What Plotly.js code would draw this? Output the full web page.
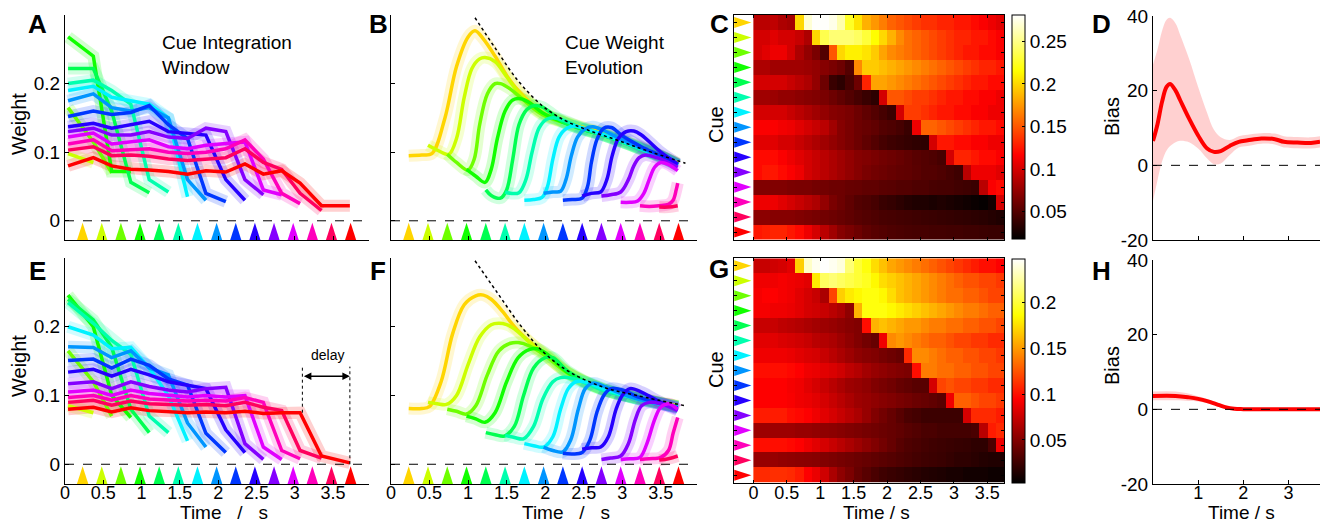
<!DOCTYPE html>
<html><head><meta charset="utf-8">
<script src="https://cdn.plot.ly/plotly-3.0.1.min.js"></script>
<style>html,body{margin:0;padding:0;background:#fff}#plot{width:1324px;height:524px}</style>
</head><body><div id="plot"></div>
<script>
// ---------------- DATA ----------------
const CUE_COLORS = ['#ffd500','#ccff00','#6eff00','#11ff00','#00ff51','#00ffae','#00f2ff','#0095ff','#0037ff','#2600ff','#8400ff','#e100ff','#ff00bb','#ff005e','#ff0000'];
const CUE_T = [0.23,0.48,0.73,0.98,1.23,1.48,1.73,1.98,2.23,2.48,2.73,2.98,3.23,3.48,3.73];
const CUE_ROWS = [1,2,3,4,5,6,7,8,9,10,11,12,13,14,15];
const TIME_TICKS = [0,0.5,1,1.5,2,2.5,3,3.5];
const TIME_LABELS = ['0','0.5','1','1.5','2','2.5','3','3.5'];

// Panel A / E : cue integration window (x grid shared)
const GRID_A = [0.04,0.37,0.61,0.86,1.1,1.35,1.6,1.84,2.1,2.35,2.59,2.83,3.07,3.35,3.72];
const A_LINES = [
 [0.095],
 [0.098,0.085],
 [0.165,0.115,0.07],
 [0.268,0.24,0.072,0.072],
 [0.222,0.222,0.16,0.056,0.041],
 [0.2,0.205,0.19,0.17,0.06,0.042],
 [0.19,0.196,0.18,0.175,0.17,0.15,0.035],
 [0.175,0.185,0.165,0.16,0.165,0.15,0.06,0.03],
 [0.152,0.16,0.155,0.158,0.168,0.14,0.12,0.04,0.028],
 [0.137,0.142,0.135,0.14,0.145,0.13,0.128,0.125,0.06,0.03],
 [0.13,0.135,0.125,0.125,0.13,0.122,0.12,0.135,0.13,0.06,0.038],
 [0.122,0.128,0.112,0.115,0.118,0.108,0.105,0.11,0.112,0.115,0.045,0.038],
 [0.112,0.118,0.102,0.104,0.105,0.1,0.098,0.1,0.105,0.118,0.09,0.04,0.025],
 [0.103,0.108,0.095,0.096,0.094,0.09,0.088,0.09,0.092,0.105,0.085,0.075,0.04,0.015],
 [0.08,0.092,0.08,0.075,0.074,0.072,0.068,0.073,0.071,0.083,0.068,0.073,0.055,0.022,0.022]
];
const E_LINES = [
 [0.08],
 [0.085,0.075],
 [0.165,0.12,0.07],
 [0.246,0.2,0.1,0.068],
 [0.24,0.21,0.17,0.08,0.046],
 [0.235,0.205,0.18,0.16,0.07,0.046],
 [0.2,0.188,0.168,0.17,0.14,0.1,0.034],
 [0.171,0.17,0.155,0.165,0.14,0.13,0.06,0.025],
 [0.151,0.153,0.14,0.153,0.144,0.124,0.115,0.045,0.017],
 [0.134,0.138,0.128,0.138,0.13,0.12,0.115,0.11,0.05,0.017],
 [0.117,0.12,0.11,0.12,0.113,0.108,0.105,0.11,0.112,0.03,0.007],
 [0.105,0.108,0.1,0.108,0.103,0.1,0.098,0.1,0.098,0.1,0.025,0.007],
 [0.097,0.1,0.093,0.1,0.095,0.094,0.092,0.093,0.092,0.097,0.09,0.02,0.008],
 [0.09,0.093,0.086,0.092,0.088,0.087,0.086,0.087,0.085,0.09,0.083,0.078,0.02,0.009],
 [0.08,0.083,0.076,0.082,0.078,0.076,0.075,0.076,0.075,0.077,0.074,0.075,0.075,0.012,0.002]
];

// Panel B / F : cue weight evolution
const B_T = [
 [0.23,0.4,0.53,0.7,0.85,1.0,1.09,1.2,1.35,1.5,1.65,1.96,2.25,2.5,2.75,3.0,3.25,3.5,3.72],
 [0.48,0.6,0.75,0.85,0.95,1.05,1.15,1.22,1.35,1.5,1.65,1.96,2.25,2.5,2.75,3.0,3.25,3.5,3.72],
 [0.73,0.85,1.0,1.08,1.15,1.25,1.35,1.42,1.55,1.7,1.96,2.25,2.5,2.75,3.0,3.25,3.5,3.72],
 [0.98,1.1,1.22,1.3,1.38,1.48,1.58,1.68,1.8,1.96,2.25,2.5,2.75,3.0,3.25,3.5,3.72],
 [1.23,1.3,1.42,1.5,1.58,1.66,1.76,1.86,1.96,2.1,2.25,2.5,2.75,3.0,3.25,3.5,3.72],
 [1.48,1.55,1.66,1.75,1.83,1.92,2.02,2.12,2.25,2.5,2.75,3.0,3.25,3.5,3.72],
 [1.73,1.85,1.96,2.03,2.1,2.18,2.28,2.4,2.5,2.75,3.0,3.25,3.5,3.72],
 [1.98,2.1,2.2,2.27,2.34,2.42,2.52,2.62,2.75,3.0,3.25,3.5,3.72],
 [2.23,2.35,2.48,2.55,2.6,2.67,2.76,2.86,3.0,3.25,3.5,3.72],
 [2.48,2.6,2.72,2.8,2.87,2.95,3.05,3.15,3.25,3.5,3.72],
 [2.73,2.85,2.98,3.08,3.15,3.22,3.3,3.45,3.6,3.72],
 [2.98,3.1,3.2,3.28,3.35,3.42,3.5,3.6,3.72],
 [3.23,3.35,3.48,3.6,3.66,3.7,3.72],
 [3.48,3.6,3.72],
 []
];
const B_W = [
 [0.095,0.096,0.098,0.15,0.225,0.268,0.277,0.265,0.24,0.212,0.19,0.158,0.145,0.136,0.128,0.118,0.107,0.095,0.084],
 [0.11,0.103,0.097,0.12,0.18,0.222,0.236,0.238,0.232,0.21,0.188,0.156,0.144,0.135,0.127,0.117,0.106,0.094,0.083],
 [0.097,0.085,0.074,0.09,0.14,0.185,0.2,0.2,0.192,0.178,0.155,0.143,0.134,0.126,0.116,0.105,0.094,0.082],
 [0.075,0.065,0.056,0.075,0.12,0.16,0.176,0.178,0.172,0.158,0.143,0.133,0.125,0.115,0.105,0.094,0.082],
 [0.045,0.037,0.033,0.045,0.09,0.14,0.162,0.168,0.166,0.155,0.143,0.133,0.125,0.115,0.104,0.093,0.081],
 [0.042,0.04,0.041,0.06,0.1,0.135,0.148,0.15,0.146,0.134,0.125,0.115,0.104,0.093,0.081],
 [0.03,0.031,0.034,0.05,0.09,0.122,0.135,0.138,0.135,0.126,0.116,0.105,0.093,0.081],
 [0.04,0.042,0.043,0.06,0.095,0.122,0.134,0.137,0.132,0.118,0.106,0.094,0.082],
 [0.03,0.031,0.033,0.05,0.085,0.118,0.135,0.136,0.124,0.108,0.095,0.082],
 [0.036,0.04,0.042,0.06,0.095,0.12,0.13,0.131,0.125,0.1,0.083],
 [0.036,0.038,0.042,0.06,0.08,0.092,0.096,0.092,0.085,0.078],
 [0.027,0.027,0.029,0.04,0.06,0.078,0.085,0.082,0.073],
 [0.022,0.021,0.022,0.024,0.03,0.045,0.055],
 [0.02,0.02,0.022],
 []
];
const F_T = [
 [0.23,0.4,0.5,0.65,0.8,0.95,1.1,1.2,1.3,1.45,1.6,1.8,2.0,2.3,2.75,3.2,3.72],
 [0.48,0.6,0.72,0.85,1.0,1.15,1.3,1.4,1.5,1.6,1.8,2.0,2.3,2.75,3.2,3.72],
 [0.73,0.85,0.98,1.1,1.25,1.4,1.55,1.65,1.8,2.0,2.3,2.75,3.2,3.72],
 [0.98,1.1,1.22,1.35,1.5,1.65,1.8,1.9,2.05,2.3,2.75,3.2,3.72],
 [1.23,1.35,1.47,1.6,1.72,1.85,2.0,2.1,2.3,2.75,3.2,3.72],
 [1.48,1.6,1.72,1.85,1.97,2.1,2.2,2.35,2.75,3.2,3.72],
 [1.73,1.85,1.98,2.1,2.2,2.3,2.4,2.55,2.75,3.2,3.72],
 [1.98,2.1,2.23,2.33,2.43,2.52,2.62,2.75,3.0,3.2,3.72],
 [2.23,2.35,2.48,2.58,2.67,2.76,2.85,3.0,3.2,3.45,3.72],
 [2.48,2.6,2.72,2.82,2.92,3.0,3.1,3.25,3.45,3.72],
 [2.73,2.85,2.98,3.08,3.17,3.25,3.35,3.5,3.72],
 [2.98,3.1,3.23,3.32,3.42,3.5,3.6,3.72],
 [3.23,3.35,3.5,3.6,3.66,3.72],
 [3.48,3.6,3.72],
 []
];
const F_W = [
 [0.081,0.081,0.084,0.12,0.19,0.232,0.245,0.246,0.24,0.222,0.2,0.178,0.16,0.133,0.11,0.097,0.085],
 [0.09,0.088,0.087,0.1,0.145,0.185,0.203,0.205,0.203,0.197,0.177,0.159,0.132,0.109,0.096,0.084],
 [0.08,0.077,0.073,0.085,0.13,0.165,0.176,0.177,0.172,0.158,0.132,0.109,0.096,0.084],
 [0.07,0.066,0.061,0.075,0.12,0.155,0.167,0.168,0.158,0.133,0.109,0.096,0.084],
 [0.046,0.043,0.041,0.055,0.1,0.14,0.155,0.155,0.135,0.109,0.096,0.084],
 [0.042,0.039,0.037,0.055,0.095,0.12,0.126,0.125,0.108,0.095,0.083],
 [0.03,0.027,0.025,0.04,0.08,0.11,0.12,0.119,0.11,0.095,0.083],
 [0.025,0.02,0.018,0.035,0.08,0.11,0.118,0.114,0.102,0.095,0.083],
 [0.016,0.015,0.017,0.035,0.075,0.1,0.11,0.108,0.098,0.09,0.082],
 [0.022,0.024,0.025,0.04,0.08,0.1,0.11,0.105,0.093,0.08],
 [0.007,0.009,0.012,0.03,0.065,0.085,0.09,0.088,0.078],
 [0.007,0.008,0.01,0.03,0.065,0.083,0.088,0.08],
 [0.007,0.008,0.01,0.02,0.045,0.068],
 [0.006,0.008,0.012],
 []
];
const B_ENV_T = [1.09,1.35,1.65,1.96,2.26,2.56,2.95,3.3,3.82];
const B_ENV_W = [0.296,0.252,0.204,0.168,0.146,0.132,0.117,0.103,0.084];
const F_ENV_T = [1.09,1.37,1.68,1.98,2.32,2.76,3.19,3.82];
const F_ENV_W = [0.296,0.251,0.202,0.163,0.134,0.112,0.1,0.085];

// Panel C / G : heat maps (rows = cues, columns = time bins)
const HEAT_T = [0.0625,0.1875,0.3125,0.4375,0.5625,0.6875,0.8125,0.9375,1.0625,1.1875,1.3125,1.4375,1.5625,1.6875,1.8125,1.9375,2.0625,2.1875,2.3125,2.4375,2.5625,2.6875,2.8125,2.9375,3.0625,3.1875,3.3125,3.4375,3.5625,3.6875];
const HEAT_C = [
 [0.09,0.09,0.092,0.085,0.082,0.2,0.27,0.28,0.28,0.275,0.26,0.225,0.205,0.185,0.175,0.165,0.155,0.15,0.145,0.14,0.135,0.135,0.13,0.13,0.125,0.125,0.12,0.115,0.11,0.105],
 [0.1,0.1,0.105,0.1,0.1,0.095,0.085,0.2,0.235,0.245,0.245,0.245,0.24,0.23,0.215,0.2,0.185,0.17,0.16,0.155,0.15,0.145,0.14,0.135,0.13,0.13,0.125,0.125,0.12,0.115],
 [0.1,0.105,0.11,0.11,0.1,0.085,0.075,0.065,0.05,0.15,0.2,0.21,0.21,0.205,0.195,0.18,0.17,0.165,0.16,0.155,0.15,0.145,0.14,0.135,0.13,0.125,0.125,0.12,0.12,0.115],
 [0.085,0.085,0.08,0.08,0.08,0.08,0.078,0.075,0.07,0.065,0.06,0.05,0.17,0.195,0.195,0.19,0.185,0.18,0.175,0.17,0.165,0.16,0.155,0.15,0.145,0.14,0.135,0.13,0.13,0.125],
 [0.1,0.1,0.1,0.1,0.095,0.09,0.085,0.075,0.06,0.04,0.035,0.045,0.06,0.13,0.18,0.18,0.175,0.17,0.165,0.16,0.155,0.15,0.145,0.14,0.135,0.13,0.125,0.125,0.12,0.12],
 [0.08,0.08,0.078,0.075,0.075,0.072,0.07,0.068,0.065,0.06,0.055,0.05,0.045,0.04,0.035,0.1,0.15,0.15,0.145,0.14,0.14,0.135,0.13,0.125,0.125,0.12,0.12,0.115,0.115,0.11],
 [0.1,0.1,0.1,0.1,0.095,0.09,0.085,0.08,0.075,0.07,0.068,0.065,0.06,0.055,0.05,0.045,0.04,0.1,0.14,0.14,0.135,0.13,0.125,0.125,0.12,0.12,0.115,0.115,0.11,0.11],
 [0.115,0.115,0.115,0.112,0.11,0.105,0.1,0.095,0.09,0.08,0.07,0.065,0.06,0.058,0.055,0.05,0.048,0.045,0.04,0.11,0.155,0.155,0.15,0.145,0.14,0.135,0.13,0.125,0.125,0.12],
 [0.105,0.105,0.105,0.1,0.1,0.095,0.09,0.085,0.08,0.075,0.07,0.065,0.06,0.055,0.05,0.045,0.042,0.04,0.038,0.036,0.035,0.1,0.125,0.125,0.12,0.12,0.115,0.115,0.11,0.11],
 [0.12,0.12,0.12,0.115,0.11,0.105,0.1,0.095,0.09,0.085,0.08,0.075,0.07,0.068,0.065,0.062,0.06,0.058,0.055,0.052,0.05,0.048,0.045,0.1,0.13,0.13,0.125,0.12,0.12,0.115],
 [0.12,0.125,0.125,0.12,0.115,0.11,0.1,0.095,0.09,0.085,0.08,0.075,0.07,0.065,0.062,0.06,0.058,0.056,0.055,0.053,0.05,0.05,0.048,0.045,0.042,0.09,0.11,0.11,0.11,0.105],
 [0.068,0.068,0.068,0.068,0.066,0.065,0.065,0.063,0.062,0.06,0.06,0.058,0.057,0.055,0.055,0.053,0.052,0.05,0.05,0.048,0.048,0.046,0.045,0.045,0.043,0.042,0.04,0.09,0.115,0.12],
 [0.11,0.11,0.11,0.105,0.1,0.095,0.09,0.085,0.075,0.065,0.06,0.055,0.05,0.048,0.045,0.04,0.038,0.035,0.032,0.03,0.03,0.028,0.03,0.028,0.026,0.024,0.022,0.02,0.025,0.1],
 [0.072,0.072,0.07,0.07,0.07,0.068,0.066,0.064,0.062,0.06,0.058,0.055,0.052,0.05,0.048,0.046,0.045,0.044,0.043,0.042,0.041,0.04,0.039,0.038,0.037,0.036,0.035,0.034,0.032,0.03],
 [0.125,0.128,0.13,0.13,0.125,0.12,0.11,0.1,0.09,0.08,0.07,0.065,0.06,0.055,0.052,0.05,0.048,0.047,0.046,0.045,0.045,0.044,0.044,0.043,0.043,0.042,0.042,0.041,0.04,0.04]
];
const HEAT_G = [
 [0.075,0.075,0.078,0.08,0.085,0.17,0.235,0.245,0.248,0.245,0.24,0.215,0.2,0.19,0.175,0.165,0.155,0.15,0.145,0.14,0.135,0.13,0.125,0.12,0.115,0.11,0.105,0.1,0.1,0.095],
 [0.09,0.09,0.09,0.092,0.09,0.088,0.085,0.18,0.21,0.215,0.21,0.205,0.2,0.195,0.185,0.175,0.17,0.165,0.16,0.155,0.15,0.145,0.14,0.135,0.13,0.125,0.125,0.12,0.12,0.115],
 [0.092,0.095,0.095,0.092,0.09,0.085,0.08,0.075,0.065,0.12,0.17,0.18,0.185,0.19,0.19,0.185,0.175,0.165,0.16,0.155,0.15,0.145,0.14,0.135,0.135,0.13,0.13,0.125,0.12,0.12],
 [0.092,0.092,0.09,0.09,0.088,0.085,0.08,0.078,0.075,0.07,0.065,0.055,0.16,0.19,0.19,0.19,0.185,0.18,0.175,0.17,0.165,0.16,0.155,0.15,0.145,0.14,0.14,0.135,0.13,0.13],
 [0.075,0.075,0.075,0.072,0.07,0.068,0.065,0.062,0.06,0.058,0.055,0.052,0.05,0.1,0.16,0.165,0.16,0.155,0.15,0.15,0.145,0.14,0.14,0.135,0.135,0.13,0.13,0.125,0.125,0.12],
 [0.085,0.085,0.085,0.082,0.08,0.078,0.075,0.07,0.068,0.065,0.06,0.055,0.05,0.045,0.04,0.09,0.145,0.15,0.145,0.14,0.135,0.13,0.13,0.125,0.12,0.12,0.115,0.115,0.11,0.11],
 [0.09,0.09,0.09,0.09,0.088,0.085,0.082,0.08,0.075,0.07,0.065,0.06,0.055,0.052,0.05,0.046,0.043,0.04,0.11,0.145,0.145,0.14,0.135,0.13,0.13,0.125,0.125,0.12,0.12,0.115],
 [0.1,0.1,0.1,0.1,0.098,0.095,0.09,0.088,0.085,0.082,0.078,0.072,0.068,0.062,0.058,0.055,0.052,0.05,0.048,0.1,0.14,0.14,0.135,0.135,0.13,0.13,0.125,0.125,0.12,0.12],
 [0.095,0.095,0.095,0.095,0.092,0.09,0.085,0.08,0.075,0.07,0.065,0.06,0.058,0.055,0.05,0.047,0.044,0.04,0.038,0.035,0.035,0.08,0.12,0.125,0.12,0.12,0.115,0.115,0.11,0.11],
 [0.095,0.095,0.095,0.095,0.093,0.09,0.088,0.085,0.08,0.075,0.07,0.065,0.06,0.058,0.055,0.052,0.05,0.047,0.045,0.042,0.04,0.038,0.035,0.09,0.13,0.13,0.125,0.12,0.12,0.115],
 [0.105,0.105,0.105,0.105,0.1,0.098,0.095,0.09,0.085,0.08,0.075,0.07,0.065,0.058,0.05,0.045,0.04,0.035,0.03,0.028,0.025,0.025,0.025,0.025,0.025,0.08,0.11,0.11,0.11,0.105],
 [0.06,0.06,0.06,0.06,0.06,0.058,0.058,0.056,0.055,0.054,0.052,0.05,0.048,0.046,0.044,0.042,0.04,0.038,0.035,0.033,0.03,0.03,0.028,0.028,0.028,0.028,0.03,0.07,0.105,0.11],
 [0.1,0.1,0.1,0.1,0.098,0.095,0.09,0.085,0.08,0.075,0.07,0.065,0.06,0.055,0.05,0.045,0.04,0.035,0.032,0.03,0.028,0.026,0.025,0.024,0.023,0.022,0.02,0.02,0.03,0.09],
 [0.058,0.058,0.058,0.056,0.055,0.054,0.053,0.052,0.05,0.048,0.046,0.044,0.042,0.04,0.038,0.036,0.034,0.032,0.03,0.028,0.026,0.025,0.024,0.022,0.02,0.02,0.018,0.016,0.015,0.015],
 [0.11,0.11,0.112,0.112,0.11,0.105,0.095,0.088,0.078,0.065,0.055,0.048,0.04,0.035,0.03,0.026,0.024,0.022,0.02,0.018,0.016,0.015,0.014,0.012,0.012,0.01,0.01,0.01,0.008,0.008]
];
const C_TICKS = [0.05,0.1,0.15,0.2,0.25];
const C_LABELS = ['0.05','0.1','0.15','0.2','0.25'];
const G_TICKS = [0.05,0.1,0.15,0.2];
const G_LABELS = ['0.05','0.1','0.15','0.2'];

// Panel D / H : bias
const D_T  = [0,0.1,0.2,0.3,0.38,0.5,0.6,0.8,1.0,1.2,1.35,1.5,1.7,1.9,2.1,2.4,2.7,2.9,3.2,3.5,3.7];
const D_Y  = [6.5,11,17,21,21.8,20,17.5,12.5,8,4.5,3.6,3.8,5.2,6.3,6.7,7.2,7,6.3,6.1,6,6.3];
const D_UP = [27,31,36,39,39.5,38,35,28.5,21,14,9.5,7.5,6.8,7.8,8.2,8.6,8.5,7.8,7.6,7.5,7.8];
const D_LO = [-9.5,-4,1,4,5.2,6.2,6.6,6.2,4.5,1.8,0.3,0.5,2.8,4.8,5.2,5.8,5.6,4.8,4.6,4.5,4.8];
const H_T  = [0,0.5,0.8,1.0,1.2,1.4,1.6,1.8,2.0,2.5,3.0,3.5,3.7];
const H_Y  = [3.6,3.6,3.2,2.8,2.2,1.4,0.6,0.15,0.05,0,0,0,0];
const H_UP = [4.8,4.8,4.2,3.5,2.8,1.9,1.0,0.5,0.35,0.3,0.3,0.3,0.3];
const H_LO = [2.4,2.4,2.2,2.1,1.6,0.9,0.2,-0.2,-0.25,-0.3,-0.3,-0.3,-0.3];
const BIAS_TICKS = [-20,0,20,40];
const BIAS_LABELS = ['-20','0','20','40'];
const BIAS_X_TICKS = [1,2,3];
const BIAS_X_LABELS = ['1','2','3'];
const WEIGHT_TICKS = [0,0.1,0.2];
const WEIGHT_LABELS = ['0','0.1','0.2'];

// ---------------- STYLE / BUILD ----------------
const FONT = 'Liberation Sans, Arial, sans-serif';
const W = 1324, H = 524;
const px = x => x / W;
const py = y => 1 - y / H;
const HOT = [[0,'rgb(0,0,0)'],[0.375,'rgb(255,0,0)'],[0.75,'rgb(255,255,0)'],[1,'rgb(255,255,255)']];

const data = [];
function addLines(xsFor, Ys, xa, ya, shape) {
  const layers = [{w: 12, o: 0.18}, {w: 3.5, o: 1}];
  layers.forEach(L => {
    for (let k = 0; k < Ys.length; k++) {
      const ys = Ys[k];
      if (ys.length < 2) continue;
      data.push({type:'scatter', mode:'lines', x: xsFor(k, ys), y: ys, xaxis: xa, yaxis: ya,
        line:{color: CUE_COLORS[k], width: L.w, shape: shape, smoothing: 1}, opacity: L.o,
        hoverinfo:'skip', showlegend:false});
    }
  });
}
function addCueMarkers(xa, ya) {
  data.push({type:'scatter', mode:'markers', x: CUE_T, y: CUE_T.map(() => -0.003), xaxis: xa, yaxis: ya,
    marker:{symbol:'arrow', angle:0, size:19, color: CUE_COLORS, line:{width:0}}, hoverinfo:'skip', showlegend:false, cliponaxis:false});
}

// A
addLines((k, ys) => GRID_A.slice(0, ys.length), A_LINES, 'x', 'y', 'linear');
addCueMarkers('x', 'y');
// B
addLines((k) => B_T[k], B_W, 'x2', 'y2', 'spline');
data.push({type:'scatter', mode:'lines', x:B_ENV_T, y:B_ENV_W, xaxis:'x2', yaxis:'y2', line:{color:'#000', width:1.5, dash:'dot', shape:'spline'}, hoverinfo:'skip'});
addCueMarkers('x2', 'y2');
// E
addLines((k, ys) => GRID_A.slice(0, ys.length), E_LINES, 'x5', 'y5', 'linear');
addCueMarkers('x5', 'y5');
// F
addLines((k) => F_T[k], F_W, 'x6', 'y6', 'spline');
data.push({type:'scatter', mode:'lines', x:F_ENV_T, y:F_ENV_W, xaxis:'x6', yaxis:'y6', line:{color:'#000', width:1.5, dash:'dot', shape:'spline'}, hoverinfo:'skip'});
addCueMarkers('x6', 'y6');

// Heatmaps
function cbar(yCenter, len, tv, tt) {
  return {x: px(1012), xanchor:'left', y: py(yCenter), yanchor:'middle', len: len, lenmode:'pixels',
    thickness: 13, thicknessmode:'pixels', xpad:0, ypad:0, outlinewidth:1, outlinecolor:'#000',
    ticks:'inside', ticklen:3, tickcolor:'#000', tickvals: tv, ticktext: tt,
    tickfont:{family:FONT, size:19, color:'#000'}};
}
data.push({type:'heatmap', x: HEAT_T, y: CUE_ROWS, z: HEAT_C, xaxis:'x3', yaxis:'y3', colorscale: HOT,
  zmin:0.018, zmax:0.281, colorbar: cbar(127, 224, C_TICKS, C_LABELS), hoverinfo:'skip'});
data.push({type:'heatmap', x: HEAT_T, y: CUE_ROWS, z: HEAT_G, xaxis:'x7', yaxis:'y7', colorscale: HOT,
  zmin:0.0034, zmax:0.2485, colorbar: cbar(370.5, 224, G_TICKS, G_LABELS), hoverinfo:'skip'});
[['x3','y3'],['x7','y7']].forEach(([xa, ya]) => {
  data.push({type:'scatter', mode:'markers', x: CUE_ROWS.map(() => -0.03), y: CUE_ROWS, xaxis: xa, yaxis: ya,
    marker:{symbol:'arrow', angle:90, size:18, color: CUE_COLORS, line:{width:0}}, hoverinfo:'skip', cliponaxis:false});
});

// Bias panels
function addBias(T, Y, UP, LO, xa, ya) {
  data.push({type:'scatter', mode:'lines', x:T, y:LO, xaxis:xa, yaxis:ya, line:{width:0, color:'rgba(0,0,0,0)', shape:'spline'}, hoverinfo:'skip'});
  data.push({type:'scatter', mode:'lines', x:T, y:UP, xaxis:xa, yaxis:ya, fill:'tonexty', fillcolor:'rgba(255,40,40,0.22)', line:{width:0, color:'rgba(0,0,0,0)', shape:'spline'}, hoverinfo:'skip'});
  data.push({type:'scatter', mode:'lines', x:T, y:Y, xaxis:xa, yaxis:ya, line:{width:4, color:'#ff0000', shape:'spline'}, hoverinfo:'skip'});
}
addBias(D_T, D_Y, D_UP, D_LO, 'x4', 'y4');
addBias(H_T, H_Y, H_UP, H_LO, 'x8', 'y8');

// invisible carrier traces for the tick-label-only axes of the bottom row
[['x9','y5'],['x10','y6'],['x11','y7'],['x12','y8']].forEach(([xa, ya]) => {
  data.push({type:'scatter', mode:'markers', x:[null], y:[null], xaxis:xa, yaxis:ya, hoverinfo:'skip', showlegend:false});
});

// Axes
function ax(extra) {
  return Object.assign({showline:true, linecolor:'#000', linewidth:1, ticks:'inside', ticklen:4, tickcolor:'#000',
    showgrid:false, zeroline:false, fixedrange:true, tickfont:{family:FONT, size:19, color:'#000'}}, extra);
}
function labelAxis(over, dom, rng, tv, tt) {
  return {overlaying: over, anchor:'free', position: py(479.5), domain: dom, range: rng, side:'bottom',
    showline:false, ticks:'', showgrid:false, zeroline:false, fixedrange:true, tickvals: tv, ticktext: tt,
    tickfont:{family:FONT, size:18, color:'#000'}};
}
const topY = [py(240), py(15)], botY = [py(483.5), py(258)];
const domA = [px(65), px(369)], domB = [px(391), px(697)], domC = [px(734), px(1004)], domD = [px(1153), px(1320)];
const layout = {
  width: W, height: H, margin:{l:0, r:0, t:0, b:0}, paper_bgcolor:'#fff', plot_bgcolor:'rgba(0,0,0,0)',
  showlegend:false, font:{family:FONT, color:'#000'},
  xaxis:  ax({domain:domA, range:[0,3.97], anchor:'y', tickvals:TIME_TICKS, showticklabels:false}),
  yaxis:  ax({domain:topY, range:[-0.028,0.3], anchor:'x', tickvals:WEIGHT_TICKS, ticktext:WEIGHT_LABELS}),
  xaxis2: ax({domain:domB, range:[0,3.97], anchor:'y2', tickvals:TIME_TICKS, showticklabels:false}),
  yaxis2: ax({domain:topY, range:[-0.028,0.3], anchor:'x2', tickvals:WEIGHT_TICKS, showticklabels:false}),
  xaxis3: ax({domain:domC, range:[-0.29,3.75], anchor:'y3', tickvals:TIME_TICKS, showticklabels:false, mirror:'ticks', ticklen:3}),
  yaxis3: ax({domain:[py(239.5), py(15)], range:[15.5,0.5], anchor:'x3', tickvals:CUE_ROWS, showticklabels:false, mirror:'ticks', ticklen:3}),
  xaxis4: ax({domain:domD, range:[0,3.7], anchor:'y4', tickvals:BIAS_X_TICKS, showticklabels:false}),
  yaxis4: ax({domain:[py(240), py(16)], range:[-20,40], anchor:'x4', tickvals:BIAS_TICKS, ticktext:BIAS_LABELS}),
  xaxis5: ax({domain:domA, range:[0,3.97], anchor:'y5', tickvals:TIME_TICKS, showticklabels:false}),
  yaxis5: ax({domain:botY, range:[-0.028,0.3], anchor:'x5', tickvals:WEIGHT_TICKS, ticktext:WEIGHT_LABELS}),
  xaxis6: ax({domain:domB, range:[0,3.97], anchor:'y6', tickvals:TIME_TICKS, showticklabels:false}),
  yaxis6: ax({domain:botY, range:[-0.028,0.3], anchor:'x6', tickvals:WEIGHT_TICKS, showticklabels:false}),
  xaxis7: ax({domain:domC, range:[-0.29,3.75], anchor:'y7', tickvals:TIME_TICKS, showticklabels:false, mirror:'ticks', ticklen:3}),
  yaxis7: ax({domain:[py(482.7), py(258.3)], range:[15.5,0.5], anchor:'x7', tickvals:CUE_ROWS, showticklabels:false, mirror:'ticks', ticklen:3}),
  xaxis8: ax({domain:domD, range:[0,3.7], anchor:'y8', tickvals:BIAS_X_TICKS, showticklabels:false}),
  yaxis8: ax({domain:[py(484), py(260)], range:[-20,40], anchor:'x8', tickvals:BIAS_TICKS, ticktext:BIAS_LABELS}),
  xaxis9:  labelAxis('x5', domA, [0,3.97], TIME_TICKS, TIME_LABELS),
  xaxis10: labelAxis('x6', domB, [0,3.97], TIME_TICKS, TIME_LABELS),
  xaxis11: labelAxis('x7', domC, [-0.29,3.75], TIME_TICKS, TIME_LABELS),
  xaxis12: labelAxis('x8', domD, [0,3.7], BIAS_X_TICKS, BIAS_X_LABELS),
  shapes: [],
  annotations: []
};
// dashed zero lines
[['x','y',3.97],['x2','y2',3.97],['x5','y5',3.97],['x6','y6',3.97],['x4','y4',3.7],['x8','y8',3.7]].forEach(([xa,ya,xm]) => {
  layout.shapes.push({type:'line', xref:xa, yref:ya, x0:0, x1:xm, y0:0, y1:0, line:{color:'#000', width:1, dash:'dash'}});
});
// delay markers in E
layout.shapes.push({type:'line', xref:'x5', yref:'y5', x0:3.1, x1:3.1, y0:0.075, y1:0.142, line:{color:'#000', width:1, dash:'dot'}});
layout.shapes.push({type:'line', xref:'x5', yref:'y5', x0:3.72, x1:3.72, y0:0, y1:0.142, line:{color:'#000', width:1, dash:'dot'}});
layout.annotations.push({xref:'x5', yref:'y5', axref:'x5', ayref:'y5', x:3.72, y:0.128, ax:3.1, ay:0.128, text:'',
  showarrow:true, arrowhead:2, arrowside:'end+start', arrowsize:1, arrowwidth:1.5, arrowcolor:'#000', standoff:0, startstandoff:0});

function note(text, x, y, o) {
  layout.annotations.push(Object.assign({text:text, xref:'paper', yref:'paper', x:px(x), y:py(y), showarrow:false,
    xanchor:'center', yanchor:'middle', font:{family:FONT, size:20, color:'#000'}}, o || {}));
}
// panel letters
[['A',37,24],['B',378,24],['C',719,24],['D',1101,24],['E',37,271],['F',378,271],['G',719,269],['H',1101,271]].forEach(([t,x,y]) => {
  note('<b>' + t + '</b>', x, y, {font:{family:FONT, size:26, color:'#000'}});
});
// axis titles
note('Weight', 19, 124, {textangle:-90});
note('Weight', 19, 366, {textangle:-90});
note('Cue', 716, 125, {textangle:-90});
note('Cue', 716, 370, {textangle:-90});
note('Bias', 1112, 117, {textangle:-90});
note('Bias', 1112, 366, {textangle:-90});
const BOTTOM = {yanchor:'bottom', borderpad:0, font:{family:FONT, size:19, color:'#000'}};
note('Time\u00a0\u00a0\u00a0/\u00a0\u00a0\u00a0s', 224, 524, BOTTOM);
note('Time\u00a0\u00a0\u00a0/\u00a0\u00a0\u00a0s', 566, 524, BOTTOM);
note('Time / s', 877, 524, BOTTOM);
note('Time / s', 1241, 524, BOTTOM);
// panel headings
note('Cue Integration<br>Window', 160, 30, {xanchor:'left', yanchor:'top', align:'left', font:{family:FONT, size:19, color:'#000'}});
note('Cue Weight<br>Evolution', 563, 30, {xanchor:'left', yanchor:'top', align:'left', font:{family:FONT, size:19, color:'#000'}});
note('delay', 327, 355, {font:{family:FONT, size:14, color:'#000'}});

Plotly.newPlot('plot', data, layout, {staticPlot:true, displayModeBar:false});
</script>
</body></html>
